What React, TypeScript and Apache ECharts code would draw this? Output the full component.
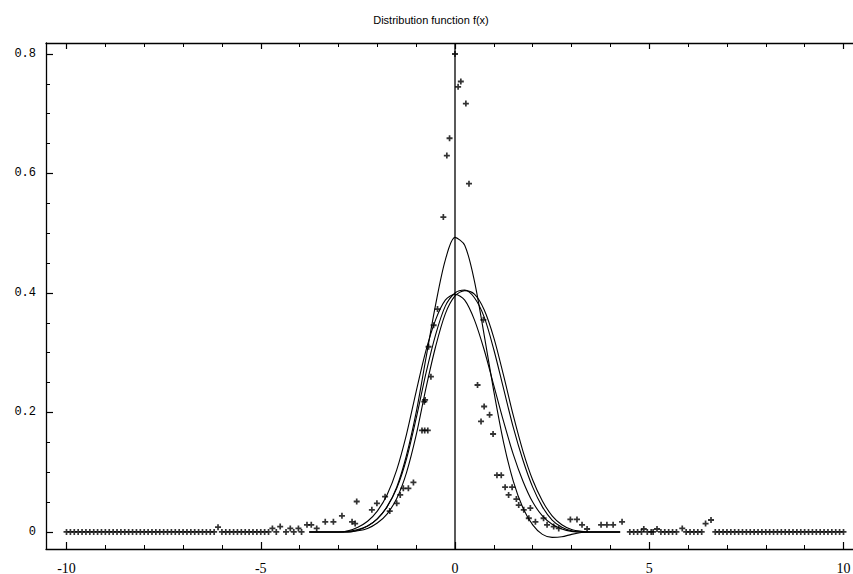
import React, { useEffect, useRef } from "react";
import * as echarts from "echarts";

// ---- data ----
const xMajorTicks = [-10, -5, 0, 5, 10];
const xMinorTicks = [-10, -9, -8, -7, -6, -5, -4, -3, -2, -1, 0, 1, 2, 3, 4, 5, 6, 7, 8, 9, 10];
const yMajorTicks = [0, 0.2, 0.4, 0.6, 0.8];
const yMinorTicks = [0, 0.05, 0.1, 0.15, 0.2, 0.25, 0.3, 0.35, 0.4, 0.45, 0.5, 0.55, 0.6, 0.65, 0.7, 0.75, 0.8];

const curveX = [-3.75, -3.5, -3.25, -3, -2.75, -2.5, -2.25, -2, -1.75, -1.5, -1.25, -1, -0.75, -0.5, -0.25, 0, 0.25, 0.5, 0.75, 1, 1.25, 1.5, 1.75, 2, 2.25, 2.5, 2.75, 3, 3.25, 3.5, 3.75, 4, 4.25];
const curveTall = [0, 0, 0, 0, 0.001, 0.004, 0.01, 0.022, 0.042, 0.075, 0.128, 0.2, 0.29, 0.38, 0.455, 0.493, 0.48, 0.42, 0.33, 0.235, 0.15, 0.085, 0.04, 0.012, -0.004, -0.009, -0.008, -0.004, -0.001, 0, 0, 0, 0];
const curveB = [0, 0, 0, 0, 0.002, 0.008, 0.018, 0.035, 0.062, 0.104, 0.163, 0.235, 0.303, 0.355, 0.388, 0.398, 0.388, 0.355, 0.305, 0.245, 0.185, 0.13, 0.085, 0.05, 0.027, 0.013, 0.005, 0.001, 0, 0, 0, 0, 0];
const curveC = [0, 0, 0, 0, 0, 0.003, 0.01, 0.022, 0.042, 0.073, 0.122, 0.19, 0.265, 0.33, 0.378, 0.4, 0.405, 0.392, 0.36, 0.305, 0.24, 0.175, 0.12, 0.075, 0.042, 0.02, 0.008, 0.002, 0, 0, 0, 0, 0];
const curveD = [0, 0, 0, 0, 0, 0.002, 0.006, 0.015, 0.03, 0.056, 0.099, 0.162, 0.24, 0.31, 0.365, 0.395, 0.404, 0.398, 0.372, 0.325, 0.262, 0.195, 0.135, 0.087, 0.052, 0.027, 0.012, 0.004, 0.001, 0, 0, 0, 0];

const zeroLeftX = [-10, -9.9, -9.8, -9.7, -9.6, -9.5, -9.4, -9.3, -9.2, -9.1, -9, -8.9, -8.8, -8.7, -8.6, -8.5, -8.4, -8.3, -8.2, -8.1, -8, -7.9, -7.8, -7.7, -7.6, -7.5, -7.4, -7.3, -7.2, -7.1, -7, -6.9, -6.8, -6.7, -6.6, -6.5, -6.4, -6.3, -6.2, -6, -5.9, -5.8, -5.7, -5.6, -5.5, -5.4, -5.3, -5.2, -5.1, -5, -4.9, -4.8, -4.6, -4.35, -4.15, -3.95];
const zeroRightX = [4.5, 4.6, 4.7, 4.8, 4.95, 5.05, 5.1, 5.3, 5.4, 5.5, 5.6, 5.7, 5.95, 6.05, 6.15, 6.25, 6.35, 6.7, 6.8, 6.9, 7, 7.1, 7.2, 7.3, 7.4, 7.5, 7.6, 7.7, 7.8, 7.9, 8, 8.1, 8.2, 8.3, 8.4, 8.5, 8.6, 8.7, 8.8, 8.9, 9, 9.1, 9.2, 9.3, 9.4, 9.5, 9.6, 9.7, 9.8, 9.9, 10];
const samplePointsX = [-6.1, -4.7, -4.5, -4.24, -4.03, -3.81, -3.7, -3.56, -3.34, -3.13, -2.91, -2.65, -2.57, -2.53, -2.14, -2.01, -1.8, -1.68, -1.5, -1.41, -1.33, -1.2, -1.07, -0.85, -0.78, -0.7, -0.79, -0.77, -0.62, -0.68, -0.55, -0.45, -0.3, -0.21, -0.14, 0, 0.08, 0.15, 0.28, 0.36, 0.73, 0.58, 0.67, 0.75, 0.89, 0.98, 1.08, 1.19, 1.29, 1.47, 1.38, 1.58, 1.64, 1.77, 1.94, 1.9, 2.07, 2.28, 2.37, 2.54, 2.67, 2.97, 3.14, 3.27, 3.4, 3.76, 3.91, 4.07, 4.3, 4.86, 5.2, 5.85, 6.45, 6.59];
const samplePointsY = [0.008, 0.006, 0.009, 0.006, 0.006, 0.012, 0.012, 0.006, 0.017, 0.017, 0.027, 0.017, 0.014, 0.051, 0.037, 0.048, 0.059, 0.035, 0.048, 0.062, 0.073, 0.073, 0.083, 0.17, 0.17, 0.17, 0.218, 0.221, 0.26, 0.31, 0.346, 0.373, 0.527, 0.63, 0.659, 0.8, 0.745, 0.754, 0.717, 0.583, 0.355, 0.246, 0.185, 0.21, 0.196, 0.164, 0.095, 0.095, 0.075, 0.075, 0.062, 0.055, 0.045, 0.037, 0.04, 0.023, 0.017, 0.023, 0.012, 0.009, 0.006, 0.021, 0.021, 0.012, 0.005, 0.012, 0.012, 0.012, 0.017, 0.005, 0.005, 0.006, 0.014, 0.02];

const X_MIN = -10.528;
const X_MAX = 10.528;
const Y_MIN = -0.0285;
const Y_MAX = 0.8184;

const PLUS = "path://M0,2.1H2.15V0H3.85V2.1H6V3.9H3.85V6H2.15V3.9H0Z";

export default function App() {
  const ref = useRef<HTMLDivElement>(null);
  useEffect(() => {
    if (!ref.current) return;
    const chart = echarts.init(ref.current, null, { renderer: "svg" });

    const pair = (xs: number[], ys: number[]) => xs.map((x, i) => [x, ys[i]]);
    const scatterData = [
      ...zeroLeftX.map((x) => [x, 0]),
      ...zeroRightX.map((x) => [x, 0]),
      ...pair(samplePointsX, samplePointsY),
    ];

    const baseX = {
      type: "value" as const,
      min: X_MIN,
      max: X_MAX,
      splitLine: { show: false },
    };
    const baseY = {
      type: "value" as const,
      min: Y_MIN,
      max: Y_MAX,
      splitLine: { show: false },
    };
    const lineBlack = { color: "#000", width: 1.3 };

    const curveSeries = [curveTall, curveB, curveC, curveD].map((c) => ({
      type: "line",
      data: pair(curveX, c),
      symbol: "none",
      smooth: 0.3,
      lineStyle: { color: "#000", width: 1.1 },
      silent: true,
      z: 2,
    }));

    chart.setOption({
      animation: false,
      backgroundColor: "#fff",
      grid: {
        left: 46,
        top: 43,
        width: 818,
        height: 506,
        containLabel: false,
        outerBoundsMode: "none",
      },
      graphic: [
        {
          type: "text",
          x: 431,
          y: 20,
          style: {
            text: "Distribution function f(x)",
            font: "11px 'Liberation Sans', Arial, sans-serif",
            fill: "#000",
            align: "center",
            verticalAlign: "middle",
          },
        },
      ],
      xAxis: [
        {
          ...baseX,
          position: "bottom",
          axisLine: { show: true, onZero: false, lineStyle: lineBlack },
          axisTick: { show: true, inside: true, length: 7, customValues: xMajorTicks, lineStyle: { color: "#000", width: 1.2 } },
          axisLabel: {
            show: true,
            customValues: xMajorTicks,
            margin: 12,
            color: "#000",
            fontSize: 14,
            fontFamily: "'Liberation Serif', serif",
          },
        },
        {
          ...baseX,
          position: "bottom",
          axisLine: { show: false, onZero: false },
          axisTick: { show: true, inside: true, length: 4, customValues: xMinorTicks, lineStyle: { color: "#000", width: 1 } },
          axisLabel: { show: false },
        },
        {
          ...baseX,
          position: "top",
          axisLine: { show: true, onZero: false, lineStyle: lineBlack },
          axisTick: { show: true, inside: true, length: 6, customValues: xMajorTicks, lineStyle: { color: "#000", width: 1.2 } },
          axisLabel: { show: false },
        },
        {
          ...baseX,
          position: "top",
          axisLine: { show: false, onZero: false },
          axisTick: { show: true, inside: true, length: 4, customValues: xMinorTicks, lineStyle: { color: "#000", width: 1 } },
          axisLabel: { show: false },
        },
      ],
      yAxis: [
        {
          ...baseY,
          position: "left",
          axisLine: { show: true, onZero: false, lineStyle: lineBlack },
          axisTick: { show: true, inside: true, length: 7, customValues: yMajorTicks, lineStyle: { color: "#000", width: 1.2 } },
          axisLabel: {
            show: true,
            customValues: yMajorTicks,
            margin: 10,
            color: "#000",
            fontSize: 12,
            fontFamily: "'Liberation Mono', monospace",
          },
        },
        {
          ...baseY,
          position: "left",
          axisLine: { show: false, onZero: false },
          axisTick: { show: true, inside: true, length: 4, customValues: yMinorTicks, lineStyle: { color: "#000", width: 1 } },
          axisLabel: { show: false },
        },
        {
          ...baseY,
          position: "right",
          axisLine: { show: true, onZero: false, lineStyle: lineBlack },
          axisTick: { show: false },
          axisLabel: { show: false },
        },
      ],
      series: [
        {
          type: "line",
          data: [
            [0, Y_MIN],
            [0, Y_MAX],
          ],
          symbol: "none",
          lineStyle: { color: "#000", width: 1.3 },
          silent: true,
          z: 1,
        },
        ...curveSeries,
        {
          type: "scatter",
          data: scatterData,
          symbol: PLUS,
          symbolSize: 6,
          itemStyle: { color: "#000" },
          silent: true,
          z: 3,
        },
      ],
    });
    return () => chart.dispose();
  }, []);

  return (
    <div
      ref={ref}
      style={{ position: "fixed", left: 0, top: 0, width: 853, height: 574, background: "#fff" }}
    />
  );
}
